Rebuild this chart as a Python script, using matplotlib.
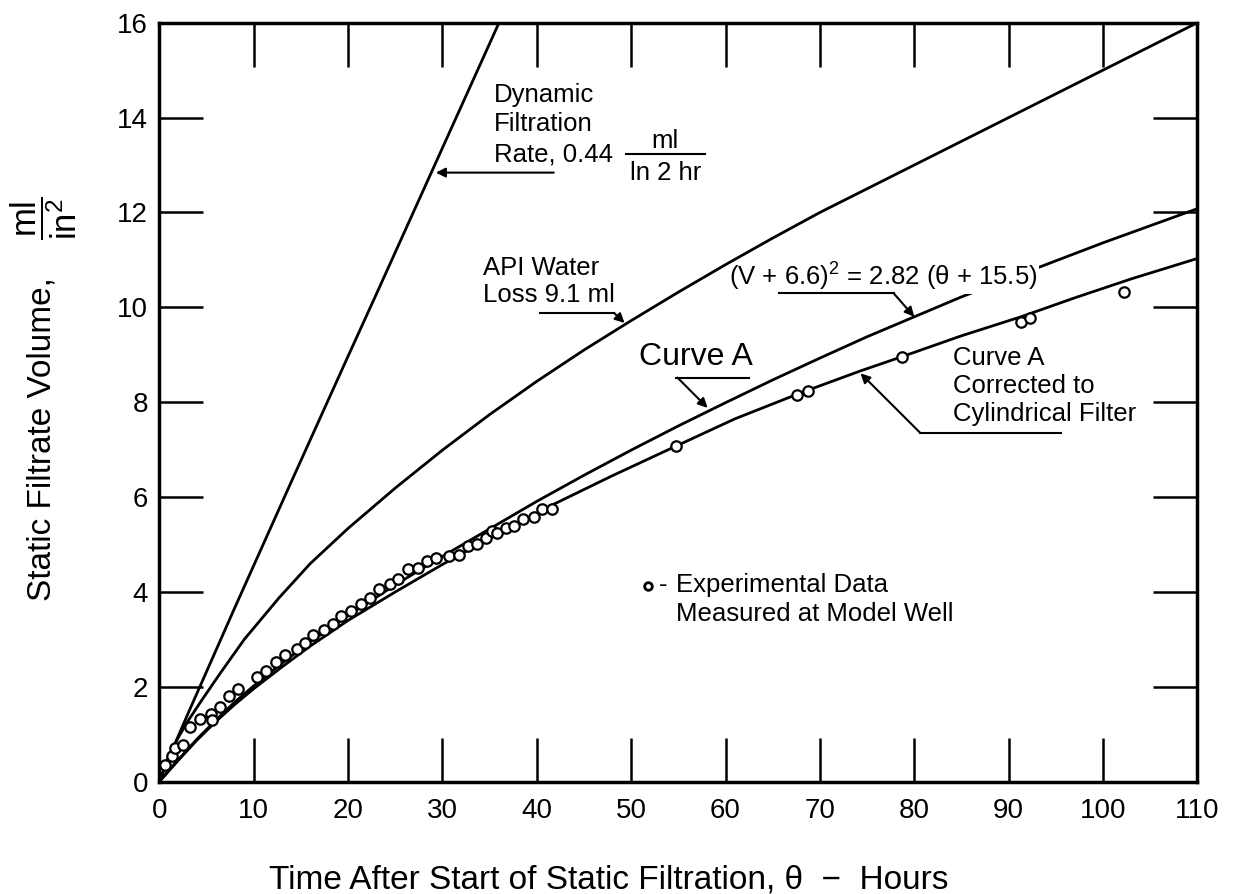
import matplotlib.pyplot as plt

plt.rcParams['font.family'] = 'Liberation Sans'
plt.rcParams['mathtext.fontset'] = 'custom'
plt.rcParams['mathtext.rm'] = 'Liberation Sans'
plt.rcParams['mathtext.it'] = 'Liberation Sans:italic'

# dynamic filtration rate line
dyn_t = [0, 1, 3, 5, 8, 11, 14, 17, 20, 23, 26, 29, 32, 34, 36.2]
dyn_v = [0, 0.5, 1.42, 2.32, 3.67, 5.0, 6.33, 7.65, 8.97, 10.28, 11.6, 12.92, 14.24, 15.12, 16.09]

# API water loss 9.1 ml
api_t = [0, 1, 2, 3, 4.5, 6.5, 9, 12.7, 16, 20, 25, 30, 35, 40, 45, 50, 55, 60, 65, 70, 75,
         80, 85, 90, 95, 100, 105, 110]
api_v = [0, 0.55, 0.93, 1.27, 1.72, 2.3, 3.0, 3.88, 4.6, 5.34, 6.19, 6.99, 7.74, 8.44, 9.1,
         9.72, 10.32, 10.9, 11.46, 12.0, 12.5, 13.0, 13.5, 14.0, 14.5, 15.0, 15.5, 16.0]

# Curve A
a_t = [0, 1, 2, 4, 6, 8, 10, 13, 16, 20, 25, 30, 35, 40, 45, 50, 55, 60, 65, 70, 75, 80,
       85, 90, 95, 100, 105, 110]
a_v = [0.01, 0.24, 0.46, 0.9, 1.3, 1.68, 2.02, 2.5, 2.95, 3.5, 4.15, 4.75, 5.33, 5.91, 6.46,
       6.99, 7.5, 7.99, 8.47, 8.93, 9.38, 9.8, 10.22, 10.6, 10.98, 11.36, 11.72, 12.08]

# Curve A corrected to cylindrical filter
c_t = [0, 2, 4, 6, 8, 10, 13, 16, 20, 25, 30, 35, 41.8, 48, 54.7, 61, 68, 74.3, 78.7, 85,
       91.3, 97, 103, 110]
c_v = [0, 0.45, 0.88, 1.27, 1.63, 1.96, 2.42, 2.86, 3.4, 4.0, 4.58, 5.13, 5.85, 6.45, 7.07,
       7.65, 8.2, 8.66, 8.96, 9.4, 9.8, 10.2, 10.6, 11.03]

# experimental data measured at model well
obs_t = [0.6, 1.3, 1.7, 2.5, 3.3, 4.3, 5.5, 5.6, 6.4, 7.4, 8.3, 10.3, 11.3, 12.4, 13.3, 14.6,
         15.4, 16.3, 17.4, 18.4, 19.3, 20.3, 21.4, 22.3, 23.3, 24.4, 25.3, 26.4, 27.4, 28.4,
         29.3, 30.7, 31.8, 32.7, 33.7, 34.6, 35.3, 35.8, 36.7, 37.6, 38.5, 39.7, 40.6, 41.6,
         54.7, 67.6, 68.7, 78.7, 91.3, 92.3, 102.2]
obs_v = [0.36, 0.54, 0.71, 0.78, 1.15, 1.32, 1.42, 1.3, 1.57, 1.81, 1.96, 2.2, 2.34, 2.52, 2.67,
         2.8, 2.92, 3.09, 3.2, 3.32, 3.5, 3.6, 3.74, 3.88, 4.06, 4.16, 4.28, 4.49, 4.51, 4.65,
         4.72, 4.76, 4.77, 4.97, 5.02, 5.13, 5.28, 5.25, 5.35, 5.39, 5.53, 5.57, 5.74, 5.74,
         7.07, 8.16, 8.23, 8.96, 9.70, 9.77, 10.33]

x_ticks = list(range(0, 111, 10))
y_ticks = list(range(0, 17, 2))

fig = plt.figure(figsize=(12.39, 8.94), dpi=100)
ax = fig.add_axes([0.1286, 0.1256, 0.8378, 0.849])

lw = 2.0
ax.plot(dyn_t, dyn_v, color='black', lw=lw, zorder=4)
ax.plot(api_t, api_v, color='black', lw=lw, zorder=4)
ax.plot(a_t, a_v, color='black', lw=lw, zorder=2)
ax.plot(c_t, c_v, color='black', lw=lw, zorder=4)
ax.plot(obs_t, obs_v, 'o', ms=7.5, mfc='white', mec='black', mew=1.6, zorder=5)

ax.set_xlim(0, 110)
ax.set_ylim(0, 16)
ax.set_xticks(x_ticks)
ax.set_yticks(y_ticks)
ax.tick_params(direction='in', length=32, width=1.8, top=True, right=True, labelsize=20)
ax.tick_params(axis='x', pad=12)
ax.tick_params(axis='y', pad=8)
for s in ax.spines.values():
    s.set_linewidth(2.5)

fs = 18.5
arrow = dict(arrowstyle='-|>', color='black', lw=1.5, mutation_scale=14, shrinkA=0, shrinkB=0)

# dynamic filtration label
ax.text(35.5, 14.47, "Dynamic", fontsize=fs, va='center')
ax.text(35.5, 13.86, "Filtration", fontsize=fs, va='center')
ax.text(35.5, 13.23, "Rate, 0.44", fontsize=fs, va='center')
ax.text(53.6, 13.5, "ml", fontsize=fs, va='center', ha='center')
ax.plot([49.5, 57.8], [13.23, 13.23], color='black', lw=1.5)
ax.text(53.6, 12.84, "ln 2 hr", fontsize=fs, va='center', ha='center')
ax.annotate("", xy=(29.3, 12.84), xytext=(41.8, 12.84), arrowprops=arrow)

# API label
ax.text(34.3, 10.83, "API Water", fontsize=fs, va='center')
ax.text(34.3, 10.25, "Loss 9.1 ml", fontsize=fs, va='center')
ax.plot([40.3, 48.2], [9.88, 9.88], color='black', lw=1.5)
ax.annotate("", xy=(49.3, 9.67), xytext=(48.2, 9.88), arrowprops=arrow)

# Curve A label
ax.text(50.8, 8.95, "Curve A", fontsize=23, va='center')
ax.plot([54.7, 62.5], [8.52, 8.52], color='black', lw=1.5)
ax.annotate("", xy=(58.1, 7.88), xytext=(54.9, 8.52), arrowprops=arrow)

# equation label
ax.text(60.4, 10.64, r"(V + 6.6)$^2$ = 2.82 (θ + 15.5)", fontsize=fs, va='center', zorder=3,
        bbox=dict(facecolor='white', edgecolor='none', pad=1))
ax.plot([65.7, 77.8], [10.3, 10.3], color='black', lw=1.5, zorder=4)
ax.annotate("", xy=(80.0, 9.8), xytext=(77.8, 10.3), arrowprops=arrow)

# corrected label
ax.text(84.1, 8.93, "Curve A", fontsize=fs, va='center')
ax.text(84.1, 8.35, "Corrected to", fontsize=fs, va='center')
ax.text(84.1, 7.76, "Cylindrical Filter", fontsize=fs, va='center')
ax.plot([80.6, 95.5], [7.36, 7.36], color='black', lw=1.5)
ax.annotate("", xy=(74.3, 8.61), xytext=(80.6, 7.36), arrowprops=arrow)

# legend note
ax.plot([51.8], [4.12], 'o', ms=5.5, mfc='white', mec='black', mew=2)
ax.text(52.9, 4.14, "-", fontsize=fs, va='center')
ax.text(54.8, 4.14, "Experimental Data", fontsize=fs, va='center')
ax.text(54.8, 3.53, "Measured at Model Well", fontsize=fs, va='center')

# axis titles
fig.text(0.034, 0.509, "Static Filtrate Volume,", rotation=90, ha='center', va='center',
         fontsize=24)
fig.text(0.0355, 0.756, r"$\dfrac{\mathrm{ml}}{\mathrm{in}^2}$", rotation=90, ha='center',
         va='center', fontsize=25)
fig.text(0.4915, 0.0056, "Time After Start of Static Filtration, θ  −  Hours",
         ha='center', va='baseline', fontsize=24)

fig.savefig("out.png", dpi=100)
